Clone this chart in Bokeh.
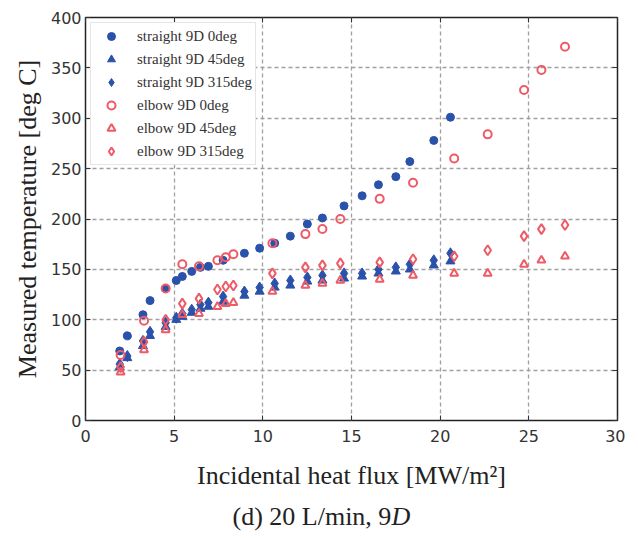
from bokeh.plotting import figure
from bokeh.models import (Range1d, LinearAxis, FixedTicker, Legend, LegendItem, Label)
from bokeh.layouts import column
from bokeh.embed import file_html
from bokeh.resources import INLINE

# ---- data ----
straight_x = [1.93, 2.36, 3.24, 3.64, 4.52, 5.12, 5.46, 5.99, 6.48, 6.93, 7.76, 8.96,
              9.82, 10.67, 11.55, 12.51, 13.36, 14.58, 15.6, 16.52, 17.5, 18.29, 19.64, 20.58]
straight_0 = [69, 84, 105, 119, 131, 139, 143, 148, 152, 153, 159, 166,
              171, 176, 183, 195, 201, 213, 223, 234, 242, 257, 278, 301]
straight_45 = [53, 62, 74, 84, 93, 100, 103, 107, 111, 113, 118, 124,
               128, 132, 134, 138, 139, 141, 143, 146, 148, 150, 154, 158]
straight_315 = [56, 64, 79, 88, 97, 102, 106, 110, 115, 117, 123, 128,
                132, 136, 139, 142, 144, 146, 146, 150, 152, 155, 159, 166]

elbow_x = [1.98, 3.3, 4.52, 5.46, 6.40, 7.44, 7.91, 8.34, 10.54, 12.4, 13.36, 14.37,
           16.59, 18.47, 20.79, 22.68, 24.73, 25.71, 27.04]
elbow_0 = [65, 99, 131, 155, 153, 159, 162, 165, 176, 185, 190, 200,
           220, 236, 260, 284, 328, 348, 371]
elbow_45 = [48, 70, 90, 105, 106, 113, 116, 117, 128, 134, 136, 139,
            140, 144, 146, 146, 155, 159, 163]
elbow_315 = [53, 78, 100, 116, 121, 130, 133, 134, 146, 152, 154, 156,
             157, 160, 163, 169, 183, 190, 194]

x_ticks = [0, 5, 10, 15, 20, 25, 30]
y_ticks = [0, 50, 100, 150, 200, 250, 300, 350, 400]

caption_main = "(d) 20 L/min, 9"
caption_italic = "D"

BLUE = "#2a52aa"
RED = "#ee5a66"
SERIF = "Liberation Serif"
SANS = "DejaVu Sans"

p = figure(frame_width=532, frame_height=403, output_backend="svg", toolbar_location=None,
           x_range=Range1d(0, 30), y_range=Range1d(0, 400),
           min_border_left=85, min_border_right=8, min_border_top=17, min_border_bottom=60)

p.outline_line_color = "#222222"
p.outline_line_width = 1.5

for ax in (p.xaxis[0], p.yaxis[0]):
    ax.major_label_text_font = SANS
    ax.major_label_text_font_size = "16px"
    ax.major_label_text_color = "#333333"
    ax.axis_line_color = None
    ax.major_tick_in = 5
    ax.major_tick_out = 0
    ax.minor_tick_line_color = None
    ax.major_tick_line_color = "#333333"
    ax.axis_label_text_font = SERIF
    ax.axis_label_text_font_style = "normal"
    ax.axis_label_text_font_size = "26px"
    ax.axis_label_text_color = "#222222"

p.xaxis[0].ticker = FixedTicker(ticks=x_ticks)
p.yaxis[0].ticker = FixedTicker(ticks=y_ticks)
p.xaxis[0].axis_label = "Incidental heat flux [MW/m\u00b2]"
p.yaxis[0].axis_label = "Measured temperature [deg C]"
p.xaxis[0].axis_label_standoff = 16
p.yaxis[0].axis_label_standoff = 6
p.xaxis[0].major_label_standoff = 9
p.yaxis[0].major_label_standoff = 4

for loc, ticks in (("right", y_ticks), ("above", x_ticks)):
    a = LinearAxis(ticker=FixedTicker(ticks=ticks))
    a.major_label_text_font_size = "0px"
    a.major_label_text_color = None
    a.major_label_standoff = 0
    a.axis_line_color = None
    a.major_tick_in = 5
    a.major_tick_out = 0
    a.minor_tick_line_color = None
    a.major_tick_line_color = "#333333"
    p.add_layout(a, loc)

p.xgrid.ticker = FixedTicker(ticks=x_ticks)
p.ygrid.ticker = FixedTicker(ticks=y_ticks)
for g in (p.xgrid[0], p.ygrid[0]):
    g.grid_line_color = "#a0a0a0"
    g.grid_line_dash = "4 3"
    g.grid_line_width = 1.3

r1 = p.scatter(straight_x, straight_0, marker="circle", size=8, fill_color=BLUE, line_color=BLUE)
r2 = p.scatter(straight_x, straight_45, marker="triangle", size=9, fill_color=BLUE, line_color=BLUE)
r3 = p.scatter(straight_x, straight_315, marker="diamond", size=11, fill_color=BLUE, line_color=BLUE)
r4 = p.scatter(elbow_x, elbow_0, marker="circle", size=8, fill_color=None, line_color=RED, line_width=2)
r5 = p.scatter(elbow_x, elbow_45, marker="triangle", size=8, fill_color=None, line_color=RED, line_width=2)
r6 = p.scatter(elbow_x, elbow_315, marker="diamond", size=10, fill_color=None, line_color=RED, line_width=2)

legend = Legend(items=[
    LegendItem(label="straight 9D 0deg", renderers=[r1]),
    LegendItem(label="straight 9D 45deg", renderers=[r2]),
    LegendItem(label="straight 9D 315deg", renderers=[r3]),
    LegendItem(label="elbow 9D 0deg", renderers=[r4]),
    LegendItem(label="elbow 9D 45deg", renderers=[r5]),
    LegendItem(label="elbow 9D 315deg", renderers=[r6]),
], location="top_left")
legend.label_text_font = SERIF
legend.label_text_font_size = "15px"
legend.label_text_color = "#333333"
legend.label_height = 20
legend.glyph_height = 20
legend.glyph_width = 34
legend.spacing = 3
legend.padding = 3
legend.margin = 5
legend.label_standoff = 9
legend.border_line_color = "#cccccc"
legend.border_line_width = 1.5
legend.background_fill_alpha = 1
p.add_layout(legend)

# caption figure
cap = figure(width=622, height=42, output_backend="svg", toolbar_location=None,
             x_range=Range1d(0, 1), y_range=Range1d(0, 1),
             x_axis_type=None, y_axis_type=None,
             min_border_left=0, min_border_right=0, min_border_top=0, min_border_bottom=0)
cap.grid.visible = False
cap.outline_line_color = None
cap.add_layout(Label(x=147, y=18, x_units="screen", y_units="screen",
                     text=caption_main, text_font=SERIF, text_font_size="26px",
                     text_color="#222222", text_baseline="middle"))
cap.add_layout(Label(x=306, y=18, x_units="screen", y_units="screen",
                     text=caption_italic, text_font=SERIF, text_font_size="26px",
                     text_font_style="italic",
                     text_color="#222222", text_baseline="middle"))

layout = column(p, cap, spacing=0)
open("out.html", "w").write(file_html(layout, INLINE))
